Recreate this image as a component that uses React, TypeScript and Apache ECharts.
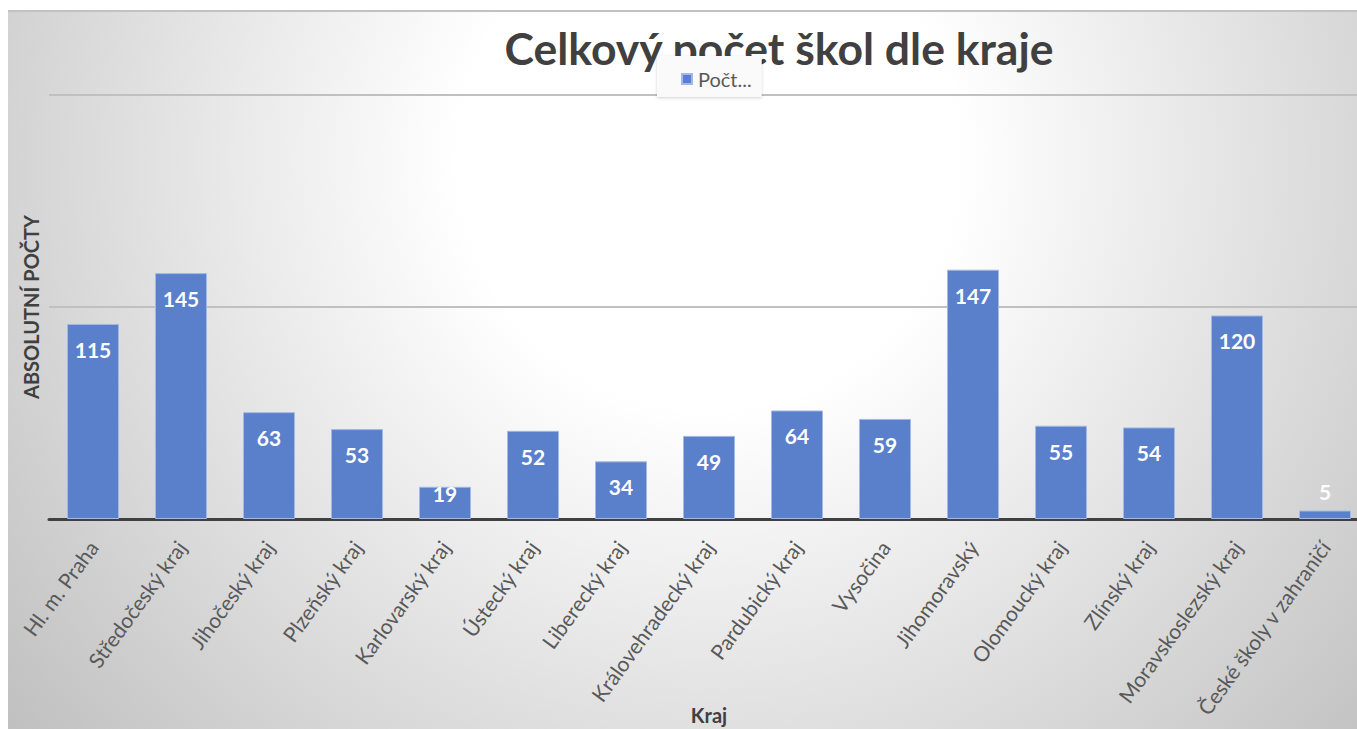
import React, { useEffect, useRef } from "react";
import * as echarts from "echarts";

const categories = [
  "Hl. m. Praha",
  "Středočeský kraj",
  "Jihočeský kraj",
  "Plzeňský kraj",
  "Karlovarský kraj",
  "Ústecký kraj",
  "Liberecký kraj",
  "Královehradecký kraj",
  "Pardubický kraj",
  "Vysočina",
  "Jihomoravský",
  "Olomoucký kraj",
  "Zlínský kraj",
  "Moravskoslezský kraj",
  "České školy v zahraničí",
];
const values = [115, 145, 63, 53, 19, 52, 34, 49, 64, 59, 147, 55, 54, 120, 5];
const seriesName = "Počet škol";
const legendText = "Počt...";
const titleText = "Celkový počet škol dle kraje";
const yAxisTitle = "ABSOLUTNÍ POČTY";
const xAxisTitle = "Kraj";

const W = 1349;
const H = 719;
const CW = 1361;
const FONT = "Lato, 'Open Sans', sans-serif";

export default function App() {
  const ref = useRef<HTMLDivElement>(null);
  useEffect(() => {
    if (!ref.current) return;
    const chart = echarts.init(ref.current, undefined, { renderer: "svg" });
    const data = values.map((v) => {
      if (v < 10) {
        return { value: v, label: { position: "top", distance: 9 } };
      }
      if (v < 30) {
        return { value: v, label: { position: "insideTop", distance: -4 } };
      }
      return { value: v };
    });
    chart.setOption({
      animation: false,
      textStyle: { fontFamily: FONT },
      graphic: [
        {
          type: "line",
          z: 1,
          shape: { x1: 0, y1: 1, x2: CW, y2: 1 },
          style: { stroke: "#c2c2c2", lineWidth: 2 },
        },
        {
          type: "text",
          z: 1,
          x: 771,
          y: 37,
          style: {
            text: titleText,
            fill: "#404040",
            font: `bold 44.5px ${FONT}`,
            textAlign: "center",
            textVerticalAlign: "middle",
          },
        },
      ],
      legend: {
        show: true,
        z: 10,
        left: 649,
        top: 46,
        padding: [13, 10, 8, 24],
        itemWidth: 10,
        itemHeight: 10,
        itemGap: 0,
        icon: "rect",
        backgroundColor: "#fafafa",
        shadowColor: "rgba(0,0,0,0.18)",
        shadowBlur: 3,
        shadowOffsetY: 1,
        formatter: () => legendText,
        textStyle: { fontSize: 20, color: "#595959", fontFamily: FONT, padding: [0, 0, 0, 1] },
      },
      grid: {
        left: 41,
        right: 0,
        top: 85,
        bottom: 210,
        containLabel: false,
        outerBoundsMode: "none",
      },
      xAxis: {
        type: "category",
        data: categories,
        name: xAxisTitle,
        nameLocation: "middle",
        nameGap: 186,
        nameMoveOverlap: false,
        nameTextStyle: { fontSize: 20, fontWeight: "bold", color: "#404040", fontFamily: FONT },
        axisTick: { show: false },
        axisLine: { lineStyle: { color: "#404040", width: 3 } },
        axisLabel: {
          interval: 0,
          rotate: 54,
          margin: 24,
          fontSize: 21,
          color: "#595959",
          fontFamily: FONT,
        },
      },
      yAxis: {
        type: "value",
        min: 0,
        max: 250,
        interval: 125,
        name: yAxisTitle,
        nameLocation: "middle",
        nameRotate: 90,
        nameGap: 8,
        nameMoveOverlap: false,
        nameTextStyle: { fontSize: 20, fontWeight: "bold", color: "#404040", fontFamily: FONT },
        axisLabel: { show: false },
        axisLine: { show: false },
        axisTick: { show: false },
        splitLine: { lineStyle: { color: "#c0c0c0", width: 2 } },
      },
      series: [
        {
          type: "bar",
          name: seriesName,
          data,
          barWidth: 52,
          itemStyle: { color: "#5a80cc", borderColor: "#a3b8e4", borderWidth: 1 },
          label: {
            show: true,
            position: "insideTop",
            distance: 15,
            color: "#ffffff",
            fontWeight: "bold",
            fontSize: 21,
            fontFamily: FONT,
          },
        },
      ],
    });
    return () => chart.dispose();
  }, []);
  return (
    <div
      style={{
        position: "absolute",
        left: 8,
        top: 10,
        width: W,
        height: H,
        overflow: "hidden",
        background:
          "radial-gradient(circle 900px at 700px 150px, #ffffff 0px, #ffffff 250px, #c0c0c0 900px)",
      }}
    >
      <div ref={ref} style={{ width: CW, height: H }} />
    </div>
  );
}
